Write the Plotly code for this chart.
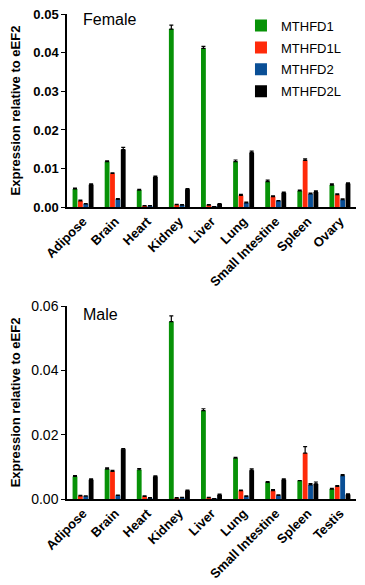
import plotly.graph_objects as go

series = ["MTHFD1", "MTHFD1L", "MTHFD2", "MTHFD2L"]
colors = ["#079207", "#ff2a0a", "#0a4f96", "#000000"]

female_tissues = ["Adipose", "Brain", "Heart", "Kidney", "Liver", "Lung", "Small Intestine", "Spleen", "Ovary"]
male_tissues = ["Adipose", "Brain", "Heart", "Kidney", "Liver", "Lung", "Small Intestine", "Spleen", "Testis"]

female_ticks = [0.0, 0.01, 0.02, 0.03, 0.04, 0.05]
male_ticks = [0.0, 0.02, 0.04, 0.06]

female_mthfd1 = [0.0047, 0.0118, 0.0044, 0.0462, 0.0412, 0.0118, 0.0066, 0.0042, 0.0057]
female_mthfd1l = [0.0016, 0.0087, 0.0003, 0.0006, 0.0005, 0.0030, 0.0027, 0.0121, 0.0032]
female_mthfd2 = [0.0008, 0.0020, 0.0003, 0.0005, 0.0001, 0.0011, 0.0016, 0.0034, 0.0019]
female_mthfd2l = [0.0058, 0.0149, 0.0078, 0.0046, 0.0008, 0.0141, 0.0037, 0.0039, 0.0061]

female_err1 = [0.0002, 0.0002, 0.0002, 0.0010, 0.0005, 0.0004, 0.0004, 0.0002, 0.0003]
female_err1l = [0.0002, 0.0002, 0.0001, 0.0001, 0.0001, 0.0003, 0.0002, 0.0004, 0.0002]
female_err2 = [0.0001, 0.0002, 0.0001, 0.0001, 0.0000, 0.0002, 0.0001, 0.0002, 0.0002]
female_err2l = [0.0002, 0.0006, 0.0002, 0.0002, 0.0001, 0.0004, 0.0002, 0.0003, 0.0002]

male_mthfd1 = [0.0070, 0.0093, 0.0091, 0.0552, 0.0275, 0.0127, 0.0052, 0.0057, 0.0031]
male_mthfd1l = [0.0010, 0.0086, 0.0008, 0.0003, 0.0004, 0.0026, 0.0026, 0.0143, 0.0039]
male_mthfd2 = [0.0009, 0.0011, 0.0003, 0.0004, 0.0001, 0.0008, 0.0011, 0.0044, 0.0073]
male_mthfd2l = [0.0060, 0.0155, 0.0070, 0.0026, 0.0013, 0.0089, 0.0060, 0.0047, 0.0014]

male_err1 = [0.0003, 0.0004, 0.0004, 0.0018, 0.0006, 0.0003, 0.0002, 0.0000, 0.0002]
male_err1l = [0.0001, 0.0003, 0.0002, 0.0001, 0.0001, 0.0002, 0.0003, 0.0020, 0.0003]
male_err2 = [0.0001, 0.0001, 0.0001, 0.0001, 0.0000, 0.0002, 0.0002, 0.0004, 0.0003]
male_err2l = [0.0003, 0.0002, 0.0002, 0.0002, 0.0002, 0.0005, 0.0003, 0.0006, 0.0002]

female_vals = [female_mthfd1, female_mthfd1l, female_mthfd2, female_mthfd2l]
female_errs = [female_err1, female_err1l, female_err2, female_err2l]
male_vals = [male_mthfd1, male_mthfd1l, male_mthfd2, male_mthfd2l]
male_errs = [male_err1, male_err1l, male_err2, male_err2l]

FONT = "Liberation Sans, Arial, sans-serif"

fig = go.Figure()
for i, name in enumerate(series):
    fig.add_trace(go.Bar(
        x=female_tissues, y=female_vals[i], name=name, marker_color=colors[i],
        marker_line_width=0, xaxis="x", yaxis="y", legendgroup=name,
        error_y=dict(type="data", symmetric=False, array=female_errs[i],
                     arrayminus=[0] * len(female_errs[i]), color="black",
                     thickness=1.2, width=2),
    ))
for i, name in enumerate(series):
    fig.add_trace(go.Bar(
        x=male_tissues, y=male_vals[i], name=name, marker_color=colors[i],
        marker_line_width=0, xaxis="x2", yaxis="y2", legendgroup=name, showlegend=False,
        error_y=dict(type="data", symmetric=False, array=male_errs[i],
                     arrayminus=[0] * len(male_errs[i]), color="black",
                     thickness=1.2, width=2),
    ))

xcommon = dict(showline=True, linecolor="black", linewidth=1.5, ticks="", automargin=False,
               tickangle=-45, tickfont=dict(size=13, family=FONT, color="black", weight="bold"),
               showgrid=False, zeroline=False)
ytitle = dict(text="Expression relative to eEF2", font=dict(size=13, family=FONT, color="black", weight="bold"))

fig.update_layout(
    width=357, height=577,
    margin=dict(l=59, r=9, t=6, b=86, autoexpand=False),
    paper_bgcolor="white", plot_bgcolor="white",
    barmode="group", bargap=0.33, bargroupgap=0.1,
    font=dict(family=FONT, color="black"),
    xaxis=dict(domain=[0, 1], anchor="y", **xcommon),
    xaxis2=dict(domain=[0, 1], anchor="y2", **xcommon),
    yaxis=dict(domain=[0.602, 1], range=[0, 0.0501], tickmode="array", tickvals=female_ticks,
               tickformat=".2f", automargin=False, ticklabeloverflow="allow",
               showline=True, linecolor="black", linewidth=1.5, ticks="outside", ticklen=4,
               tickcolor="black", showgrid=False, zeroline=False,
               tickfont=dict(size=13, family=FONT, color="black", weight="bold"),
               title=ytitle),
    yaxis2=dict(domain=[0, 0.398], range=[0, 0.0601], tickmode="array", tickvals=male_ticks,
                tickformat=".2f", automargin=False, ticklabeloverflow="allow",
                showline=True, linecolor="black", linewidth=1.5, ticks="outside", ticklen=4,
                tickcolor="black", showgrid=False, zeroline=False,
                tickfont=dict(size=14, family=FONT, color="black"),
                title=ytitle),
    legend=dict(x=0.602, y=1.007, xanchor="left", yanchor="top", bgcolor="rgba(0,0,0,0)",
                font=dict(size=13, family=FONT, color="black"), tracegroupgap=2,
                itemsizing="constant"),
    annotations=[
        dict(text="Female", x=0.05, y=1.01, xref="paper", yref="paper", xanchor="left",
             yanchor="top", showarrow=False, font=dict(size=16, family=FONT, color="black")),
        dict(text="Male", x=0.05, y=0.402, xref="paper", yref="paper", xanchor="left",
             yanchor="top", showarrow=False, font=dict(size=16, family=FONT, color="black")),
    ],
)

fig.write_html("out.html")
